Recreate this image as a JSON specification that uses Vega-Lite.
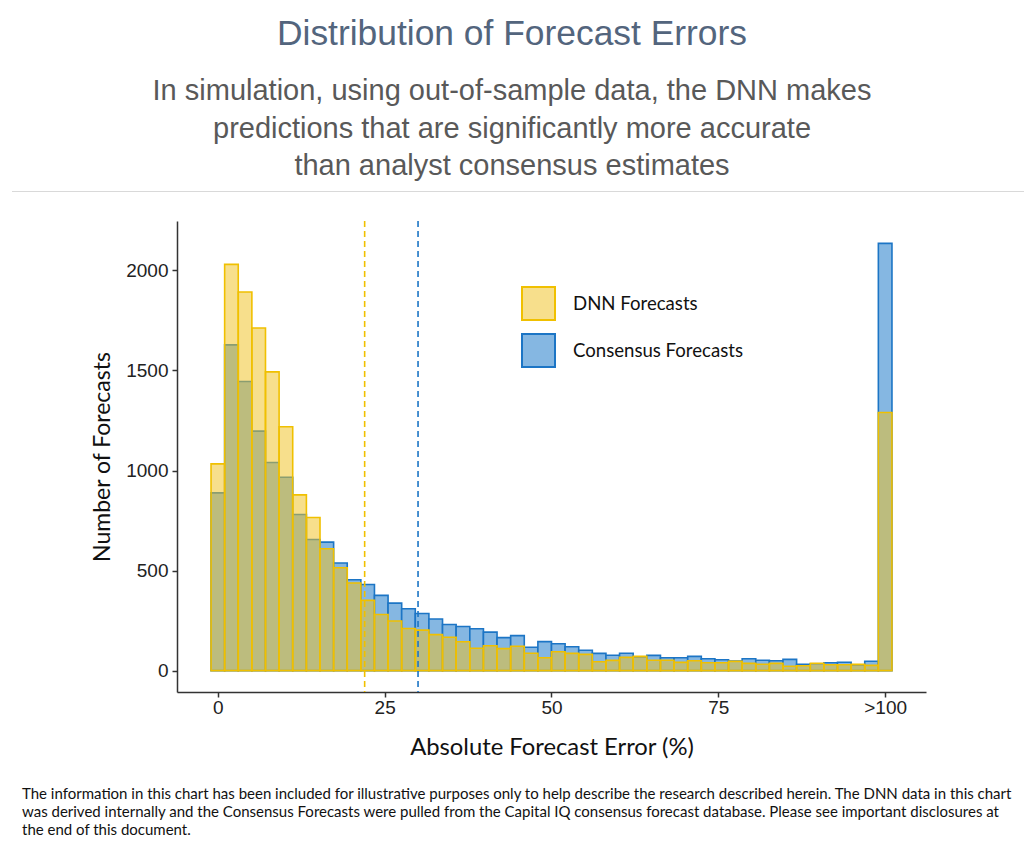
{
  "$schema": "https://vega.github.io/schema/vega-lite/v6.json",
  "padding": {"left": 12, "top": 16, "right": 0, "bottom": 0},
  "background": "white",
  "spacing": 28,
  "config": {"view": {"stroke": null}, "font": "Liberation Sans"},
  "datasets": {
    "consensus": [
      {"series": "Consensus Forecasts", "lo": -1.02, "hi": 1.02, "count": 888},
      {"series": "Consensus Forecasts", "lo": 1.02, "hi": 3.06, "count": 1628},
      {"series": "Consensus Forecasts", "lo": 3.06, "hi": 5.10, "count": 1445},
      {"series": "Consensus Forecasts", "lo": 5.10, "hi": 7.14, "count": 1197},
      {"series": "Consensus Forecasts", "lo": 7.14, "hi": 9.18, "count": 1040},
      {"series": "Consensus Forecasts", "lo": 9.18, "hi": 11.22, "count": 966},
      {"series": "Consensus Forecasts", "lo": 11.22, "hi": 13.27, "count": 780},
      {"series": "Consensus Forecasts", "lo": 13.27, "hi": 15.31, "count": 655},
      {"series": "Consensus Forecasts", "lo": 15.31, "hi": 17.35, "count": 642},
      {"series": "Consensus Forecasts", "lo": 17.35, "hi": 19.39, "count": 538},
      {"series": "Consensus Forecasts", "lo": 19.39, "hi": 21.43, "count": 454},
      {"series": "Consensus Forecasts", "lo": 21.43, "hi": 23.47, "count": 430},
      {"series": "Consensus Forecasts", "lo": 23.47, "hi": 25.51, "count": 376},
      {"series": "Consensus Forecasts", "lo": 25.51, "hi": 27.55, "count": 337},
      {"series": "Consensus Forecasts", "lo": 27.55, "hi": 29.59, "count": 309},
      {"series": "Consensus Forecasts", "lo": 29.59, "hi": 31.63, "count": 285},
      {"series": "Consensus Forecasts", "lo": 31.63, "hi": 33.67, "count": 258},
      {"series": "Consensus Forecasts", "lo": 33.67, "hi": 35.71, "count": 230},
      {"series": "Consensus Forecasts", "lo": 35.71, "hi": 37.76, "count": 220},
      {"series": "Consensus Forecasts", "lo": 37.76, "hi": 39.80, "count": 209},
      {"series": "Consensus Forecasts", "lo": 39.80, "hi": 41.84, "count": 192},
      {"series": "Consensus Forecasts", "lo": 41.84, "hi": 43.88, "count": 165},
      {"series": "Consensus Forecasts", "lo": 43.88, "hi": 45.92, "count": 175},
      {"series": "Consensus Forecasts", "lo": 45.92, "hi": 47.96, "count": 117},
      {"series": "Consensus Forecasts", "lo": 47.96, "hi": 50.00, "count": 145},
      {"series": "Consensus Forecasts", "lo": 50.00, "hi": 52.04, "count": 134},
      {"series": "Consensus Forecasts", "lo": 52.04, "hi": 54.08, "count": 119},
      {"series": "Consensus Forecasts", "lo": 54.08, "hi": 56.12, "count": 102},
      {"series": "Consensus Forecasts", "lo": 56.12, "hi": 58.16, "count": 86},
      {"series": "Consensus Forecasts", "lo": 58.16, "hi": 60.20, "count": 77},
      {"series": "Consensus Forecasts", "lo": 60.20, "hi": 62.24, "count": 87},
      {"series": "Consensus Forecasts", "lo": 62.24, "hi": 64.29, "count": 68},
      {"series": "Consensus Forecasts", "lo": 64.29, "hi": 66.33, "count": 76},
      {"series": "Consensus Forecasts", "lo": 66.33, "hi": 68.37, "count": 64},
      {"series": "Consensus Forecasts", "lo": 68.37, "hi": 70.41, "count": 64},
      {"series": "Consensus Forecasts", "lo": 70.41, "hi": 72.45, "count": 71},
      {"series": "Consensus Forecasts", "lo": 72.45, "hi": 74.49, "count": 59},
      {"series": "Consensus Forecasts", "lo": 74.49, "hi": 76.53, "count": 54},
      {"series": "Consensus Forecasts", "lo": 76.53, "hi": 78.57, "count": 48},
      {"series": "Consensus Forecasts", "lo": 78.57, "hi": 80.61, "count": 59},
      {"series": "Consensus Forecasts", "lo": 80.61, "hi": 82.65, "count": 52},
      {"series": "Consensus Forecasts", "lo": 82.65, "hi": 84.69, "count": 49},
      {"series": "Consensus Forecasts", "lo": 84.69, "hi": 86.73, "count": 56},
      {"series": "Consensus Forecasts", "lo": 86.73, "hi": 88.78, "count": 32},
      {"series": "Consensus Forecasts", "lo": 88.78, "hi": 90.82, "count": 34},
      {"series": "Consensus Forecasts", "lo": 90.82, "hi": 92.86, "count": 39},
      {"series": "Consensus Forecasts", "lo": 92.86, "hi": 94.90, "count": 42},
      {"series": "Consensus Forecasts", "lo": 94.90, "hi": 96.94, "count": 28},
      {"series": "Consensus Forecasts", "lo": 96.94, "hi": 98.98, "count": 47},
      {"series": "Consensus Forecasts", "lo": 98.98, "hi": 101.02, "count": 2135}
    ],
    "dnn": [
      {"series": "DNN Forecasts", "lo": -1.02, "hi": 1.02, "count": 1033},
      {"series": "DNN Forecasts", "lo": 1.02, "hi": 3.06, "count": 2030},
      {"series": "DNN Forecasts", "lo": 3.06, "hi": 5.10, "count": 1892},
      {"series": "DNN Forecasts", "lo": 5.10, "hi": 7.14, "count": 1712},
      {"series": "DNN Forecasts", "lo": 7.14, "hi": 9.18, "count": 1493},
      {"series": "DNN Forecasts", "lo": 9.18, "hi": 11.22, "count": 1219},
      {"series": "DNN Forecasts", "lo": 11.22, "hi": 13.27, "count": 878},
      {"series": "DNN Forecasts", "lo": 13.27, "hi": 15.31, "count": 765},
      {"series": "DNN Forecasts", "lo": 15.31, "hi": 17.35, "count": 609},
      {"series": "DNN Forecasts", "lo": 17.35, "hi": 19.39, "count": 514},
      {"series": "DNN Forecasts", "lo": 19.39, "hi": 21.43, "count": 438},
      {"series": "DNN Forecasts", "lo": 21.43, "hi": 23.47, "count": 351},
      {"series": "DNN Forecasts", "lo": 23.47, "hi": 25.51, "count": 280},
      {"series": "DNN Forecasts", "lo": 25.51, "hi": 27.55, "count": 248},
      {"series": "DNN Forecasts", "lo": 27.55, "hi": 29.59, "count": 210},
      {"series": "DNN Forecasts", "lo": 29.59, "hi": 31.63, "count": 202},
      {"series": "DNN Forecasts", "lo": 31.63, "hi": 33.67, "count": 180},
      {"series": "DNN Forecasts", "lo": 33.67, "hi": 35.71, "count": 167},
      {"series": "DNN Forecasts", "lo": 35.71, "hi": 37.76, "count": 144},
      {"series": "DNN Forecasts", "lo": 37.76, "hi": 39.80, "count": 112},
      {"series": "DNN Forecasts", "lo": 39.80, "hi": 41.84, "count": 124},
      {"series": "DNN Forecasts", "lo": 41.84, "hi": 43.88, "count": 110},
      {"series": "DNN Forecasts", "lo": 43.88, "hi": 45.92, "count": 122},
      {"series": "DNN Forecasts", "lo": 45.92, "hi": 47.96, "count": 87},
      {"series": "DNN Forecasts", "lo": 47.96, "hi": 50.00, "count": 64},
      {"series": "DNN Forecasts", "lo": 50.00, "hi": 52.04, "count": 94},
      {"series": "DNN Forecasts", "lo": 52.04, "hi": 54.08, "count": 86},
      {"series": "DNN Forecasts", "lo": 54.08, "hi": 56.12, "count": 81},
      {"series": "DNN Forecasts", "lo": 56.12, "hi": 58.16, "count": 44},
      {"series": "DNN Forecasts", "lo": 58.16, "hi": 60.20, "count": 51},
      {"series": "DNN Forecasts", "lo": 60.20, "hi": 62.24, "count": 66},
      {"series": "DNN Forecasts", "lo": 62.24, "hi": 64.29, "count": 71},
      {"series": "DNN Forecasts", "lo": 64.29, "hi": 66.33, "count": 52},
      {"series": "DNN Forecasts", "lo": 66.33, "hi": 68.37, "count": 52},
      {"series": "DNN Forecasts", "lo": 68.37, "hi": 70.41, "count": 41},
      {"series": "DNN Forecasts", "lo": 70.41, "hi": 72.45, "count": 49},
      {"series": "DNN Forecasts", "lo": 72.45, "hi": 74.49, "count": 39},
      {"series": "DNN Forecasts", "lo": 74.49, "hi": 76.53, "count": 39},
      {"series": "DNN Forecasts", "lo": 76.53, "hi": 78.57, "count": 46},
      {"series": "DNN Forecasts", "lo": 78.57, "hi": 80.61, "count": 36},
      {"series": "DNN Forecasts", "lo": 80.61, "hi": 82.65, "count": 32},
      {"series": "DNN Forecasts", "lo": 82.65, "hi": 84.69, "count": 36},
      {"series": "DNN Forecasts", "lo": 84.69, "hi": 86.73, "count": 22},
      {"series": "DNN Forecasts", "lo": 86.73, "hi": 88.78, "count": 24},
      {"series": "DNN Forecasts", "lo": 88.78, "hi": 90.82, "count": 37},
      {"series": "DNN Forecasts", "lo": 90.82, "hi": 92.86, "count": 29},
      {"series": "DNN Forecasts", "lo": 92.86, "hi": 94.90, "count": 29},
      {"series": "DNN Forecasts", "lo": 94.90, "hi": 96.94, "count": 31},
      {"series": "DNN Forecasts", "lo": 96.94, "hi": 98.98, "count": 26},
      {"series": "DNN Forecasts", "lo": 98.98, "hi": 101.02, "count": 1290}
    ],
    "means": [
      {"series": "DNN Forecasts", "mean_error": 22},
      {"series": "Consensus Forecasts", "mean_error": 30}
    ],
    "blank": [{"note": ""}]
  },
  "vconcat": [
    {
      "width": 1012,
      "height": 1,
      "view": {"fill": "#D9D9D9", "stroke": null},
      "title": {
        "text": "Distribution of Forecast Errors",
        "subtitle": ["In simulation, using out-of-sample data, the DNN makes", "predictions that are significantly more accurate", "than analyst consensus estimates"],
        "anchor": "middle",
        "dx": -6,
        "font": "Liberation Sans",
        "fontSize": 35.4,
        "fontWeight": "normal",
        "color": "#53657D",
        "subtitleFont": "Liberation Sans",
        "subtitleFontSize": 29,
        "subtitleColor": "#595959",
        "subtitleLineHeight": 37.5,
        "subtitlePadding": 25,
        "offset": 10
      },
      "data": {"name": "blank"},
      "mark": {"type": "point", "size": 0.01, "opacity": 0},
      "encoding": {}
    },
    {
      "spacing": 0,
      "hconcat": [
        {
          "width": 79,
          "height": 1,
          "data": {"name": "blank"},
          "mark": {"type": "point", "size": 0.01, "opacity": 0},
          "encoding": {}
        },
        {
          "width": 749,
          "height": 471,
          "layer": [
            {
              "data": {"name": "consensus"},
              "mark": {"type": "bar", "strokeWidth": 1.6},
              "encoding": {
                "x": {"field": "lo", "type": "quantitative",
                  "scale": {"domain": [-6.12, 106.12], "nice": false, "zero": false},
                  "axis": {"values": [0, 25, 50, 75, 100], "labelExpr": "datum.value == 100 ? '>100' : datum.label",
                    "title": "Absolute Forecast Error (%)", "grid": false,
                    "domainColor": "#333333", "domainWidth": 1.5, "tickColor": "#333333", "tickWidth": 1.5, "tickSize": 5,
                    "labelFont": "Liberation Sans", "labelFontSize": 19, "labelColor": "#222222", "labelPadding": 1,
                    "titleFont": "Lato", "titleFontSize": 23.8, "titleFontWeight": "normal", "titleColor": "#111111", "titlePadding": 18}},
                "x2": {"field": "hi"},
                "y": {"field": "count", "type": "quantitative",
                  "scale": {"domain": [-107, 2247], "nice": false, "zero": false},
                  "axis": {"values": [0, 500, 1000, 1500, 2000], "format": "d", "title": "Number of Forecasts", "grid": false,
                    "domainColor": "#333333", "domainWidth": 1.5, "tickColor": "#333333", "tickWidth": 1.5, "tickSize": 5,
                    "labelFont": "Liberation Sans", "labelFontSize": 19, "labelColor": "#222222", "labelPadding": 4,
                    "titleFont": "Lato", "titleFontSize": 23, "titleFontWeight": "normal", "titleColor": "#111111", "titlePadding": 11}},
                "y2": {"datum": 0},
                "fill": {"field": "series", "type": "nominal",
                  "scale": {"domain": ["DNN Forecasts", "Consensus Forecasts"], "range": ["#F7DF8C", "#85B7E2"]},
                  "legend": {"orient": "none", "legendX": 509, "legendY": 95, "title": null, "symbolType": "square", "symbolSize": 1089, "symbolStrokeWidth": 2,
                    "labelFont": "Lato", "labelFontSize": 18.6, "labelColor": "#111111", "labelOffset": 17, "labelLimit": 400, "rowPadding": 6, "padding": 0}},
                "stroke": {"field": "series", "type": "nominal",
                  "scale": {"domain": ["DNN Forecasts", "Consensus Forecasts"], "range": ["#F0C000", "#1C75C5"]},
                  "legend": {"orient": "none", "legendX": 509, "legendY": 95, "title": null, "symbolType": "square", "symbolSize": 1089, "symbolStrokeWidth": 2,
                    "labelFont": "Lato", "labelFontSize": 18.6, "labelColor": "#111111", "labelOffset": 17, "labelLimit": 400, "rowPadding": 6, "padding": 0}}
              }
            },
            {
              "data": {"name": "dnn"},
              "mark": {"type": "bar", "fill": "#F0C122", "fillOpacity": 0.52, "stroke": "#F0C000", "strokeWidth": 1.6},
              "encoding": {
                "x": {"field": "lo", "type": "quantitative"},
                "x2": {"field": "hi"},
                "y": {"field": "count", "type": "quantitative"},
                "y2": {"datum": 0}
              }
            },
            {
              "data": {"name": "means"},
              "transform": [{"filter": "datum.series == 'DNN Forecasts'"}],
              "mark": {"type": "rule", "color": "#F0C000", "strokeWidth": 1.6, "strokeDash": [6, 4]},
              "encoding": {"x": {"field": "mean_error", "type": "quantitative"}}
            },
            {
              "data": {"name": "means"},
              "transform": [{"filter": "datum.series == 'Consensus Forecasts'"}],
              "mark": {"type": "rule", "color": "#1C75C5", "strokeWidth": 1.6, "strokeDash": [6, 4]},
              "encoding": {"x": {"field": "mean_error", "type": "quantitative"}}
            }
          ]
        }
      ]
    },
    {
      "width": 1012,
      "height": 1,
      "title": {
        "text": ["The information in this chart has been included for illustrative purposes only to help describe the research described herein. The DNN data in this chart", "was derived internally and the Consensus Forecasts were pulled from the Capital IQ consensus forecast database. Please see important disclosures at", "the end of this document."],
        "anchor": "start",
        "frame": "group",
        "dx": 10,
        "dy": -8,
        "font": "Lato",
        "fontSize": 15,
        "fontWeight": "normal",
        "color": "#111111",
        "lineHeight": 18,
        "offset": 0
      },
      "data": {"name": "blank"},
      "mark": {"type": "point", "size": 0.01, "opacity": 0},
      "encoding": {}
    }
  ]
}
